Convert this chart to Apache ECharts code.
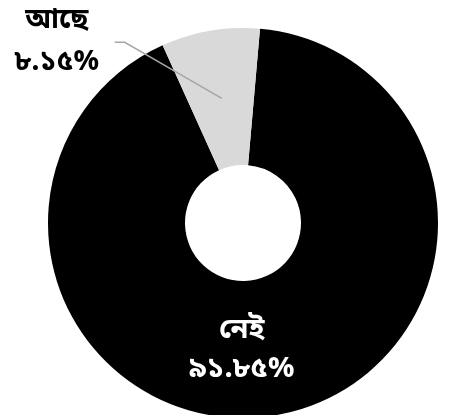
<!DOCTYPE html>
<html>
<head>
<meta charset="utf-8">
<script src="https://cdn.jsdelivr.net/npm/echarts@6/dist/echarts.min.js"></script>
<style>
  html, body { margin: 0; padding: 0; background: #ffffff; }
  #chart { width: 450px; height: 415px; }
</style>
</head>
<body>
<div id="chart"></div>
<script>
// Share of respondents: "নেই" (none) vs "আছে" (have)
const categories = ['নেই', 'আছে'];
const shares = [91.85, 8.15];
const sliceColors = ['#000000', '#d9d9d9'];

const bnDigits = ['০', '১', '২', '৩', '৪', '৫', '৬', '৭', '৮', '৯'];
function toBengali(str) {
  return String(str).replace(/[0-9]/g, d => bnDigits[+d]);
}
function pctLabel(p) {
  return p.name + '\n' + toBengali(p.value.toFixed(2)) + '%';
}

const FONT = "'Noto Sans Bengali', 'Noto Serif Bengali', 'Lohit Bengali', Vrinda, 'Noto Sans', sans-serif";
const center = [243, 223];
const innerR = 58;
const outerR = 195;
const startAngle = 85;

const chart = echarts.init(document.getElementById('chart'), null, { renderer: 'canvas' });

chart.setOption({
  backgroundColor: '#ffffff',
  animation: false,
  series: [
    {
      // the donut itself, with the big slice labelled inside
      type: 'pie',
      center: center,
      radius: [innerR, outerR],
      startAngle: startAngle,
      clockwise: true,
      avoidLabelOverlap: false,
      silent: true,
      data: categories.map((name, i) => ({
        name: name,
        value: shares[i],
        itemStyle: { color: sliceColors[i] },
        label: { show: i === 0 }
      })),
      label: {
        position: 'inside',
        formatter: pctLabel,
        color: '#ffffff',
        fontFamily: FONT,
        fontSize: 29,
        fontWeight: 'bold',
        lineHeight: 39
      },
      labelLayout: function (params) {
        return {
          x: params.labelRect.x + params.labelRect.width / 2 - 23,
          y: params.labelRect.y + params.labelRect.height / 2 + 1
        };
      },
      labelLine: { show: false }
    },
    {
      // invisible ring at mid radius so the callout line starts inside the small slice
      type: 'pie',
      center: center,
      radius: [0, (innerR + outerR) / 2],
      startAngle: startAngle,
      clockwise: true,
      avoidLabelOverlap: false,
      silent: true,
      z: 3,
      data: categories.map((name, i) => ({
        name: name,
        value: shares[i],
        itemStyle: { color: 'rgba(0,0,0,0)' },
        label: { show: i === 1 },
        labelLine: { show: i === 1 }
      })),
      label: {
        position: 'outside',
        formatter: pctLabel,
        color: '#000000',
        fontFamily: FONT,
        fontSize: 28,
        fontWeight: 'bold',
        lineHeight: 42,
        align: 'center'
      },
      labelLine: {
        lineStyle: { color: '#a6a6a6', width: 1.5 }
      },
      labelLayout: function (params) {
        const p0 = params.labelLinePoints ? params.labelLinePoints[0] : [222, 98];
        const bend = [p0[0] - 97, p0[1] - 56];
        const end = [bend[0] - 10, bend[1]];
        return {
          x: end[0] - 58,
          y: end[1] + 1,
          align: 'center',
          verticalAlign: 'middle',
          labelLinePoints: [p0, bend, end]
        };
      }
    }
  ]
});
</script>
</body>
</html>
